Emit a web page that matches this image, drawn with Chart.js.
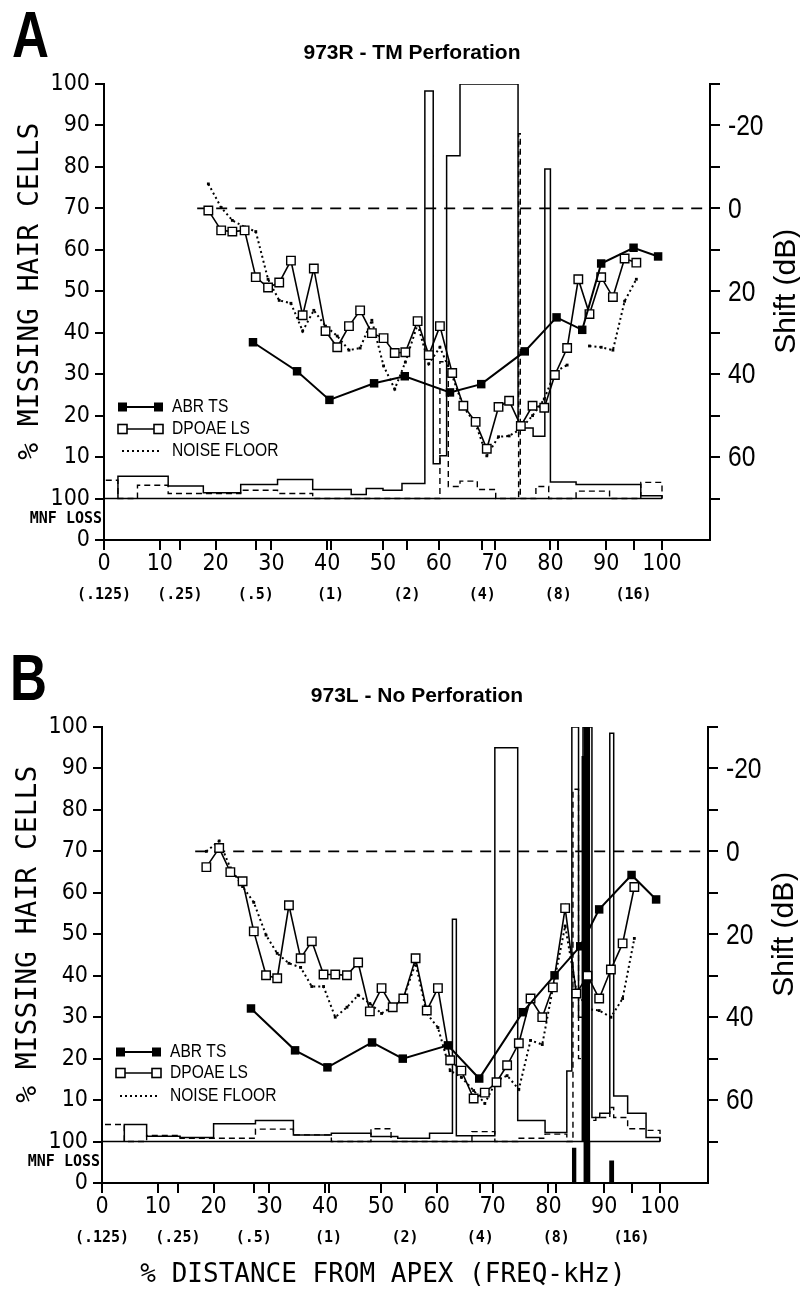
<!DOCTYPE html>
<html>
<head>
<meta charset="utf-8">
<script src="https://cdn.jsdelivr.net/npm/chart.js@4.4.1/dist/chart.umd.min.js"></script>
<style>
  html, body { margin: 0; padding: 0; background: #fff; }
  body { width: 800px; height: 1297px; position: relative; overflow: hidden; }
  canvas { position: absolute; }
  #panelA { left: 0; top: 0; }
  #panelB { left: -2px; top: 643px; }
</style>
</head>
<body>
<canvas id="panelA" width="800" height="645"></canvas>
<canvas id="panelB" width="800" height="654"></canvas>
<script>
// x: % distance from apex. left axis: % missing hair cells, right axis: shift (dB)
const placeMax = 108.6
const zeroLineFrom = 16.7
const placeTicks = [0, 10, 20, 30, 40, 50, 60, 70, 80, 90, 100]
const freqPlace = [0, 13.6, 27.2, 40.6, 54.3, 67.8, 81.4, 94.9]
const freqLabels = ["(.125)", "(.25)", "(.5)", "(1)", "(2)", "(4)", "(8)", "(16)"]
const lossTicks = [-10, 0, 10, 20, 30, 40, 50, 60, 70, 80, 90, 100]
const lossTickLabels = ["0", "100", "10", "20", "30", "40", "50", "60", "70", "80", "90", "100"]
const shiftTicks = [-30, -20, -10, 0, 10, 20, 30, 40, 50, 60, 70]
const shiftTickLabels = ["", "-20", "", "0", "", "20", "", "40", "", "60", ""]

// test frequencies mapped to cochlear place
const dpPlace = [18.7, 21, 23, 25.2, 27.2, 29.4, 31.4, 33.5, 35.6, 37.6, 39.7, 41.8, 43.9, 45.9, 48, 50.1, 52.1, 54, 56.2,
  58.2, 60.2, 62.4, 64.4, 66.6, 68.6, 70.7, 72.6, 74.7, 76.8, 78.9, 80.8, 83, 85, 87, 89.1, 91.2, 93.3, 95.4]
const abrPlace = [26.7, 34.6, 40.4, 48.4, 53.9, 62, 67.6, 75.4, 81.1, 85.7, 89.1, 94.9, 99.3]

// 973R - TM perforation
const abrShiftR = [32.3, 39.3, 46.2, 42.2, 40.5, 44.4, 42.4, 34.5, 26.3, 29.3, 13.3, 9.5, 11.6]
const dpShiftR = [0.5, 5.3, 5.6, 5.3, 16.6, 19.1, 17.9, 12.6, 25.8, 14.5, 29.6, 33.5, 28.4, 24.6, 30.1, 31.3, 34.9, 34.7, 27.2,
  35.4, 28.4, 39.7, 47.6, 51.5, 58, 47.9, 46.4, 52.5, 47.6, 48.1, 40.2, 33.7, 17.1, 25.5, 16.6, 21.4, 12.1, 13.1]
const noiseR = [-5.9, -0.2, 2.9, 4.5, 5.6, 17.1, 22.2, 22.9, 29.6, 24.6, 28.4, 30.8, 34.2, 33.7, 27, 38, 43.6, 37.1, 28,
  37.5, 33.5, 40.4, 47.9, 52, 59.7, 55.1, 54.9, 53.2, 50, 46, 39.5, 37.8, null, 33.2, 33.5, 34.2, 22.4, 17.1]
const solidEdgesR = [2.5, 11.5, 17.8, 24.5, 31.1, 37.4, 44.3, 47, 50, 53.4, 57.5, 59, 60.2, 61.4, 63.8, 74.2, 76.9, 79, 80, 84.6, 96.2, 100]
const solidLossR = [5.4, 3, 1.4, 3.4, 4.6, 2.2, 1, 2.4, 2, 3.6, 98.3, 8.4, 10.3, 82.7, 100, 17, 15, 79.5, 4, 3.4, 0.7]
const dashEdgesR = [0, 2.5, 6, 11.5, 24.5, 31.1, 37.4, 58.9, 60.2, 61.7, 63.8, 66.9, 70.2, 74.3, 74.6, 77.4, 79.7, 84.6, 90.6, 96.2, 100]
const dashLossR = [4.4, 0, 3.2, 1.2, 2, 1.2, 0, 0, 33, 2.9, 4.2, 2.2, 0, 88, 0, 2.9, 0, 1.8, 0, 3.9]

// 973L - no perforation
const abrShiftL = [37.9, 48, 52.1, 46.1, 50, 46.8, 54.8, 38.8, 29.9, 22.9, 14, 5.7, 11.6]
const dpShiftL = [3.8, -0.8, 5, 7.2, 19.3, 29.9, 30.6, 13, 25.8, 21.7, 29.7, 29.7, 29.9, 26.8, 38.6, 33, 37.6, 35.5, 25.8,
  38.4, 33, 50.4, 52.9, 59.6, 58.2, 55.7, 51.6, 46.3, 35.5, 40, 32.8, 13.7, 34.3, 30, 35.5, 28.5, 22.2, 8.6]
const noiseL = [0, -2.5, 4, 8.5, 12.3, 20.2, 24.6, 27, 28, 32.6, 32.6, 40, 37.6, 34.7, 36.7, 39.1, 37.4, 35.5, 27,
  39.1, 42.5, 52.9, 54.5, 57.7, 60.8, 55.3, 54.1, 57.4, 45.6, 46.6, 33, 18, 33.5, 38, 38.4, 40, 35.5, 21]
const solidEdgesL = [4, 8, 14, 20, 27.5, 34.3, 41.1, 48.2, 53, 58.7, 62.8, 63.5, 70.4, 74.5, 79.4, 83.3, 84.2, 85.4, 86.2, 87.8,
  89.2, 91, 91.7, 94.2, 97.5, 100]
const solidLossL = [4.1, 1.3, 1, 4.3, 5.1, 1.6, 2, 1.2, 0.8, 2, 53.6, 1.4, 95, 5.1, 2.2, 17, 100, 30, 100, 5.8, 6.8, 98.5, 11, 6.8, 1]
const dashEdgesL = [0, 4, 8, 14, 20, 27.5, 34.3, 41.1, 48.2, 51.8, 66.3, 70.4, 74.5, 79.4, 83.3, 84.4, 85.4, 87.3, 88.5, 91,
  91.7, 94.2, 97.5, 100]
const dashLossL = [4.1, 0, 1.5, 0.8, 0.8, 3, 1.6, 0, 3.1, 0, 2.4, 0, 0.8, 1.8, 0, 85, 20, 5.1, 5.8, 8.2, 5.8, 3.1, 2.7]
const blackStartL = [85.9, 86.3]
const blackEndL = [86.3, 87.5]
const blackLossL = [93, 100]
const mnfStartL = [84.2, 86.3, 90.9]
const mnfEndL = [85, 87.5, 91.8]
const mnfLossL = [85, 100, 54]

const monoFont = '"DejaVu Sans Mono", monospace'
const tickFont = '"DejaVu Sans Condensed", "DejaVu Sans", sans-serif'
const sansFont = '"Liberation Sans", Arial, sans-serif'

Chart.defaults.color = "#000"

function points(xs, ys) {
  return xs.map((x, i) => ({ x, y: ys[i] }))
}

// outline of a histogram: rise at the first edge, one flat top per bin, drop at the last edge
function stepOutline(edges, vals) {
  const pts = [{ x: edges[0], y: 0 }]
  vals.forEach((v, i) => pts.push({ x: edges[i], y: v }))
  pts.push({ x: edges[edges.length - 1], y: 0 })
  return pts
}

function blocks(starts, ends, vals) {
  const pts = []
  starts.forEach((s, i) => {
    pts.push({ x: s, y: 0 }, { x: s, y: vals[i] }, { x: ends[i], y: vals[i] }, { x: ends[i], y: 0 })
  })
  return pts
}

// narrow helvetica-like text: squeeze Liberation Sans horizontally
function narrowText(ctx, text, x, y, font, align, baseline = "middle", squeeze = 0.82) {
  ctx.save()
  ctx.translate(x, y)
  ctx.scale(squeeze, 1)
  ctx.font = font
  ctx.textAlign = align
  ctx.textBaseline = baseline
  ctx.fillText(text, 0, 0)
  ctx.restore()
}

const panelText = {
  id: "panelText",
  afterDraw(chart, args, opts) {
    const { ctx, scales } = chart
    const x = scales.x
    const y2 = scales.y2
    const mid = scales.y.getPixelForValue(50)
    ctx.save()
    ctx.fillStyle = "#000"
    ctx.strokeStyle = "#000"

    narrowText(ctx, opts.letter, opts.letterX, 57, `bold 64px ${sansFont}`, "left", "alphabetic", 0.8)

    ctx.font = `bold 21px ${sansFont}`
    ctx.textAlign = "center"
    ctx.textBaseline = "alphabetic"
    ctx.fillText(opts.title, opts.titleX, 59)

    ctx.textBaseline = "middle"
    ctx.save()
    ctx.translate(31, mid)
    ctx.rotate(-Math.PI / 2)
    ctx.font = `28px ${monoFont}`
    ctx.fillText("% MISSING HAIR CELLS", 0, 0)
    ctx.restore()

    ctx.save()
    ctx.translate(787, mid)
    ctx.rotate(-Math.PI / 2)
    ctx.font = `30px ${sansFont}`
    ctx.fillText("Shift (dB)", 0, 0)
    ctx.restore()

    // right-axis tick labels (condensed face)
    shiftTicks.forEach((v, i) => {
      if (shiftTickLabels[i]) {
        narrowText(ctx, shiftTickLabels[i], y2.left + 18, y2.getPixelForValue(v) + 1, `30px ${sansFont}`, "left")
      }
    })

    ctx.font = `bold 15px ${monoFont}`
    ctx.textAlign = "right"
    ctx.fillText("MNF LOSS", 102, scales.y.getPixelForValue(-5))

    ctx.textAlign = "center"
    freqPlace.forEach((p, i) => ctx.fillText(freqLabels[i], x.getPixelForValue(p), 595))

    if (opts.xTitle) {
      ctx.font = `26px ${monoFont}`
      ctx.fillText(opts.xTitle, 385, 632)
    }

    // legend
    const [r1, r2, r3] = opts.legendY
    const legendFont = `19px ${sansFont}`
    ctx.lineWidth = 2
    ctx.beginPath(); ctx.moveTo(122, r1); ctx.lineTo(158, r1); ctx.stroke()
    ctx.fillRect(118, r1 - 4.5, 9, 9); ctx.fillRect(154, r1 - 4.5, 9, 9)
    narrowText(ctx, "ABR TS", 172, r1, legendFont, "left")
    ctx.lineWidth = 1.6
    ctx.beginPath(); ctx.moveTo(122, r2); ctx.lineTo(158, r2); ctx.stroke()
    ctx.fillStyle = "#fff"
    ctx.fillRect(118, r2 - 4.5, 9, 9); ctx.fillRect(154, r2 - 4.5, 9, 9)
    ctx.strokeRect(118, r2 - 4.5, 9, 9); ctx.strokeRect(154, r2 - 4.5, 9, 9)
    ctx.fillStyle = "#000"
    narrowText(ctx, "DPOAE LS", 172, r2, legendFont, "left")
    ctx.setLineDash([2, 3])
    ctx.lineWidth = 2
    ctx.beginPath(); ctx.moveTo(122, r3); ctx.lineTo(160, r3); ctx.stroke()
    ctx.setLineDash([])
    narrowText(ctx, "NOISE FLOOR", 172, r3, legendFont, "left")
    ctx.restore()
  }
}

function makePanel(canvas, d) {
  const datasets = [
    {
      data: points(abrPlace, d.abr), yAxisID: "y2",
      borderColor: "#000", borderWidth: 2,
      pointStyle: "rect", pointRadius: 6, pointBackgroundColor: "#000", pointBorderWidth: 0
    },
    {
      data: points(dpPlace, d.dp), yAxisID: "y2",
      borderColor: "#000", borderWidth: 1.6,
      pointStyle: "rect", pointRadius: 6, pointBackgroundColor: "#fff", pointBorderColor: "#000", pointBorderWidth: 1.4
    },
    {
      data: points(dpPlace, d.noise), yAxisID: "y2", spanGaps: false,
      borderColor: "#000", borderWidth: 2, borderDash: [2, 3],
      pointStyle: "rect", pointRadius: 2, pointBackgroundColor: "#000", pointBorderWidth: 0
    },
    {
      data: [{ x: zeroLineFrom, y: 0 }, { x: placeMax, y: 0 }], yAxisID: "y2",
      borderColor: "#000", borderWidth: 1.6, borderDash: [11, 8], pointRadius: 0
    },
    {
      data: stepOutline(d.solidEdges, d.solidLoss), yAxisID: "y", stepped: "before",
      borderColor: "#000", borderWidth: 1.5, pointRadius: 0
    },
    {
      data: stepOutline(d.dashEdges, d.dashLoss), yAxisID: "y", stepped: "before",
      borderColor: "#000", borderWidth: 1.4, borderDash: [6, 4], pointRadius: 0
    },
    {
      data: [{ x: placeTicks[0], y: 0 }, { x: placeTicks[placeTicks.length - 1], y: 0 }], yAxisID: "y",
      borderColor: "#000", borderWidth: 1.6, pointRadius: 0
    }
  ]
  if (d.blackStart) {
    datasets.push({
      data: blocks(d.blackStart, d.blackEnd, d.blackLoss), yAxisID: "y",
      borderWidth: 0, pointRadius: 0, fill: { value: 0 }, backgroundColor: "#000"
    })
  }
  if (d.mnfStart) {
    datasets.push({
      data: blocks(d.mnfStart, d.mnfEnd, d.mnfLoss), yAxisID: "ym",
      borderWidth: 0, pointRadius: 0, fill: "origin", backgroundColor: "#000"
    })
  }

  const axisGrid = { drawOnChartArea: false, color: "#000", lineWidth: 2, tickWidth: 2 }
  const axisBorder = { color: "#000", width: 2 }

  return new Chart(canvas, {
    type: "line",
    data: { datasets },
    options: {
      responsive: false,
      animation: false,
      events: [],
      devicePixelRatio: 1,
      layout: { padding: { top: 84, left: 0, right: 0, bottom: 0 } },
      elements: { line: { tension: 0 } },
      plugins: {
        legend: { display: false },
        tooltip: { enabled: false },
        panelText: d.text
      },
      scales: {
        x: {
          type: "linear", min: 0, max: placeMax,
          afterBuildTicks: s => {
            s.ticks = [...placeTicks, ...freqPlace.slice(1)].sort((a, b) => a - b).map(value => ({ value }))
          },
          afterFit: s => { s.height = s.chart.height - 540 },
          grid: { ...axisGrid, tickLength: 10 },
          border: axisBorder,
          ticks: {
            autoSkip: false, maxRotation: 0, padding: 0,
            font: { family: tickFont, size: 23 },
            callback: v => placeTicks.includes(v) ? String(v) : ""
          }
        },
        y: {
          type: "linear", position: "left", min: -10, max: 100,
          afterBuildTicks: s => { s.ticks = lossTicks.map(value => ({ value })) },
          afterFit: s => { s.width = 104 },
          grid: { ...axisGrid, tickLength: 9 },
          border: axisBorder,
          ticks: {
            padding: 5,
            font: { family: tickFont, size: 23 },
            callback: v => lossTickLabels[lossTicks.indexOf(v)]
          }
        },
        y2: {
          type: "linear", position: "right", min: -30, max: 80, reverse: true,
          afterBuildTicks: s => { s.ticks = shiftTicks.map(value => ({ value })) },
          afterFit: s => { s.width = s.chart.width - 710 },
          grid: { ...axisGrid, tickLength: 10 },
          border: axisBorder,
          ticks: { callback: () => "" }
        },
        ym: { type: "linear", display: false, min: 0, max: 1100 }
      }
    },
    plugins: [panelText]
  })
}

makePanel(document.getElementById("panelA"), {
  abr: abrShiftR, dp: dpShiftR, noise: noiseR,
  solidEdges: solidEdgesR, solidLoss: solidLossR,
  dashEdges: dashEdgesR, dashLoss: dashLossR,
  text: { letter: "A", letterX: 12, title: "973R - TM Perforation", titleX: 412, legendY: [407, 429, 451] }
})

makePanel(document.getElementById("panelB"), {
  abr: abrShiftL, dp: dpShiftL, noise: noiseL,
  solidEdges: solidEdgesL, solidLoss: solidLossL,
  dashEdges: dashEdgesL, dashLoss: dashLossL,
  blackStart: blackStartL, blackEnd: blackEndL, blackLoss: blackLossL,
  mnfStart: mnfStartL, mnfEnd: mnfEndL, mnfLoss: mnfLossL,
  text: {
    letter: "B", letterX: 12, title: "973L - No Perforation", titleX: 419, legendY: [409, 430, 453],
    xTitle: "% DISTANCE FROM APEX (FREQ-kHz)"
  }
})
</script>
</body>
</html>
